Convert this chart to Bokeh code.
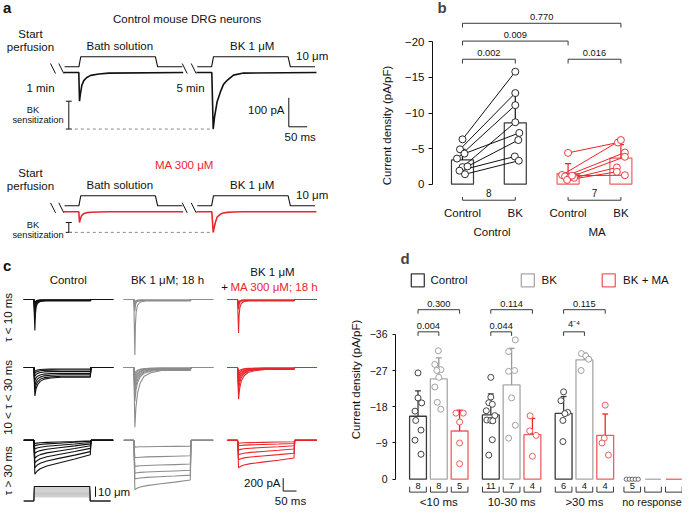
import numpy as np
from bokeh.plotting import figure
from bokeh.layouts import row, column
from bokeh.models import Range1d, FixedTicker, Label, CustomJSTickFormatter
from bokeh.core.properties import value
from bokeh.embed import file_html
from bokeh.resources import INLINE

FONT = "Liberation Sans"
BLACK = "#111111"
DARK = "#3a3a3a"
GREY = "#a8a8a8"
TGREY = "#8c8c8c"
RED = "#e8262b"
RED_L = "#f05e5e"

# ======================= DATA =======================
# panel a: currents (ms, pA) and stimulus (ms, um)
a_bath_t = [0, 40.8, 42.7, 44.8, 48.9, 54.3, 62.5, 73.4, 95.1, 122.3, 324.4]
a_bath_ctrl_pa = [0, 0, -99, -76, -45, -28, -17, -10, -5, -2, 0]
a_bath_ma_pa = [0, 0, -37, -25, -12, -6, -3, -1.5, -0.5, 0, 0]
a_bk_t = [0, 41.6, 45.4, 48.9, 51.6, 56.2, 65.2, 73.4, 83.4, 100.5, 127.7, 326.0]
a_bk_ctrl_pa = [0, 0, -195, -155, -134, -100, -66, -41, -27, -9, -2, 0]
a_bk_ma_pa = [0, 0, -71, -50, -35, -18, -8, -4, -2, -0.5, 0, 0]
a_stim_t = [2, 41, 46, 249, 255, 322]
a_stim_um = [0, 0, 10, 10, 0, 0]

# panel b: current density (pA/pF), paired cells
b_categories = ["Control", "BK", "Control", "BK"]
b_groups = ["Control", "MA"]
b_ctrl_control = [-6.3, -4.9, -3.6, -4.3, -2.4, -2.5, -1.9, -1.4]
b_ctrl_bk = [-15.8, -12.8, -11.1, -7.2, -8.7, -6.2, -3.9, -3.3]
b_ma_control = [-4.4, -1.3, -1.1, -1.0, -0.9, -0.6, -1.2]
b_ma_bk = [-5.85, -6.2, -4.45, -3.85, -2.35, -1.74, -1.26]
b_sd = [1.5, 4.1, 1.4, 1.9]
b_ticks = [0, -5, -10, -15, -20]
b_pvalues = ["0.002", "0.009", "0.770", "0.016"]
b_n = ["8", "7"]

# panel c: families of mechanically activated currents (pA)
c_row1_decay_ms = [0, 2, 5, 10, 20, 40]
c_row1_decay_frac = [1, 0.45, 0.2, 0.08, 0.02, 0]
c_row2_decay_ms = [0, 4, 10, 20, 35, 60, 100]
c_row2_decay_frac = [1, 0.65, 0.4, 0.22, 0.1, 0.04, 0]
c_row3_decay_ms = [0, 8, 20, 45, 90, 150, 209]
c_row3_decay_frac = [1, 0.85, 0.72, 0.58, 0.42, 0.22, 0]
c_r1_ctrl_peak = [480, 300, 210, 150, 105, 75]
c_r1_ctrl_end = [22, 15, 15, 8, 8, 8]
c_r1_bk_peak = [862, 180, 120, 75, 45]
c_r1_bk_end = [22, 15, 15, 8, 8]
c_r1_ma_peak = [518, 150, 90, 60]
c_r1_ma_end = [22, 15, 8, 8]
c_r2_ctrl_peak = [440, 350, 275, 200, 135, 90, 60]
c_r2_ctrl_end = [150, 135, 112, 90, 60, 38, 22]
c_r2_bk_peak = [924, 525, 420, 330, 255, 195, 135, 90]
c_r2_bk_end = [45, 38, 30, 22, 15, 15, 8, 8]
c_r2_ma_peak = [489, 360, 270, 210, 150, 105, 60]
c_r2_ma_end = [30, 22, 22, 15, 15, 8, 8]
c_r3_ctrl_peak = [525, 425, 350, 275, 200, 135, 85, 50]
c_r3_ctrl_end = [225, 175, 125, 85, 55, 35, 15, 8]
c_r3_bk_peak = [765, 600, 510, 405, 270, 105]
c_r3_bk_end = [615, 540, 465, 368, 240, 90]
c_r3_ma_peak = [425, 300, 225, 150, 85, 45]
c_r3_ma_end = [275, 200, 135, 85, 50, 22]
c_stim_um = [4.0, 5.1, 6.2, 7.3, 8.4, 9.5, 10.6, 11.7, 12.8, 14.0]

# panel d: current density (pA/pF) by inactivation time constant
d_groups = ["<10 ms", "10-30 ms", ">30 ms", "no response"]
d_series = ["Control", "BK", "BK + MA"]
d_lt10_control = [-26.4, -20.2, -18.95, -16.9, -14.6, -12.2, -9.7, -6.2]
d_lt10_bk = [-31.9, -28.5, -27.2, -27.0, -25.3, -22.9, -19.1, -17.4]
d_lt10_ma = [-16.4, -16.4, -14.2, -9.0, -3.85]
d_mid_control = [-25.3, -20.4, -19.0, -18.6, -17.0, -15.8, -14.7, -14.6, -14.5, -9.8, -6.0]
d_mid_bk = [-34.6, -31.7, -27.0, -26.8, -20.2, -13.4, -10.2]
d_mid_ma = [-15.75, -12.0, -10.9, -5.7]
d_gt30_control = [-21.7, -19.5, -16.6, -16.3, -14.6, -9.35]
d_gt30_bk = [-31.2, -30.6, -29.8, -27.0]
d_gt30_ma = [-18.4, -10.2, -9.0, -6.0]
d_none_control = [0, 0, 0, 0, 0]
d_sd = [6.3, 5.2, 5.2, 5.2, 9.1, 4.0, 4.2, 1.65, 5.3]
d_ticks = [0, -9, -18, -27, -36]
d_pvalues = ["0.004", "0.300", "0.044", "0.114", "4\u207b\u2074", "0.115"]

# jitter of the dots (pixels)
b_jit_cc = [0, -2.5, -5.5, 2, 0, 5, -3, 2.5]
b_jit_cb = [0, 0, 0, 4, 0, 3, -0.5, 3.5]
b_jit_mc = [0, -6, -3, 2, 6, -1, 4]
b_jit_mb = [-3, 0, 4, 4, -4, -4, 4]
d_jit = [
    [0, 0, 3.7, -3, -2.3, 3, -3, 3],
    [-0.5, -4, 2, -2, 0, -4, -1.5, 2],
    [-3.7, 3.7, 0, 0, 0],
    [0, 0, -2, 1.5, -4.5, 4, -4, 0, 2, 1.5, -2],
    [3.7, -3, 3, -3, 0, 3.7, -3],
    [-2.3, -2.7, 3.7, 0],
    [0, -2.7, 4, 1.3, -0.7, -0.7],
    [-3, 1.3, 4.3, -3.3],
    [0, -1, -3.2, 3.2],
]

# ======================= HELPERS =======================
def canvas(w, h, xr, yr):
    p = figure(width=w, height=h, x_range=Range1d(xr[0], xr[1]), y_range=Range1d(yr[1], yr[0]),
               output_backend="svg", toolbar_location=None, x_axis_location=None,
               y_axis_location=None, min_border=0, outline_line_color=None)
    p.grid.visible = False
    return p


def txt(p, x, y, s, size="11.5px", color=BLACK, align="center", baseline="middle", angle=0.0, bold=False):
    p.text(x=[x], y=[y], text=[s], text_font=value(FONT), text_font_size=size, text_color=color,
           text_align=align, text_baseline=baseline, angle=angle,
           text_font_style="bold" if bold else "normal")


def jit(xc, js, unit):
    return [xc + j / unit for j in js]


def style_yaxis(ax, ticks, tick_fs, label_std, label_fs, tick_std, tick_out):
    ax.ticker = FixedTicker(ticks=ticks)
    ax.bounds = (min(ticks), max(ticks))
    ax.formatter = CustomJSTickFormatter(code="return tick == 0 ? '0' : '\u2212' + Math.abs(tick);")
    ax.axis_label = "Current density (pA/pF)"
    ax.axis_label_text_font = FONT
    ax.axis_label_text_font_style = "normal"
    ax.axis_label_text_font_size = label_fs
    ax.axis_label_standoff = label_std
    ax.axis_label_text_color = BLACK
    ax.major_label_text_font = FONT
    ax.major_label_text_font_size = tick_fs
    ax.major_label_standoff = tick_std
    ax.major_tick_out = tick_out
    ax.major_tick_in = 0
    ax.minor_tick_line_color = None
    ax.axis_line_color = BLACK
    ax.major_tick_line_color = BLACK
    ax.major_label_text_color = BLACK


# ======================= PANEL A =======================
pa = canvas(340, 250, (0, 340), (2, 252))
A_PX_MS = 18.4 / 50.0
A_PX_PA = 29.0 / 100.0
A_PX_UM = 1.0


def a_xy(t, v, x0, y0, k):
    return [x0 + tt * A_PX_MS for tt in t], [y0 - vv * k for vv in v]


txt(pa, 2.5, 8.5, "a", size="15px", align="left", bold=True)
txt(pa, 186.7, 20, "Control mouse DRG neurons")
txt(pa, 184, 166, "MA 300 \u03bcM", color=RED)

rows_a = [
    dict(tr=74.0, st=68.3, bath=a_bath_ctrl_pa, bk=a_bk_ctrl_pa, col=BLACK, lab=35.0),
    dict(tr=213.3, st=207.3, bath=a_bath_ma_pa, bk=a_bk_ma_pa, col=RED, lab=174.0),
]
for r in rows_a:
    txt(pa, 30, r["lab"], "Start")
    txt(pa, 30, r["lab"] + 13.5, "perfusion")
    txt(pa, 119.3, r["lab"] + 12, "Bath solution")
    txt(pa, 251.7, r["lab"] + 12, "BK 1 \u03bcM")
    txt(pa, 311.7, r["st"] - 11, "10 \u03bcm")
    for x0 in (63.3, 196.0):
        sx, sy = a_xy(a_stim_t, a_stim_um, x0, r["st"], A_PX_UM)
        pa.line(sx, sy, line_color=BLACK, line_width=1.1)
    bx, by = a_xy(a_bath_t, r["bath"], 63.3, r["tr"], A_PX_PA)
    kx, ky = a_xy(a_bk_t, r["bk"], 196.0, r["tr"], A_PX_PA)
    pa.line(bx, by, line_color=r["col"], line_width=1.6)
    pa.line(kx, ky, line_color=r["col"], line_width=1.6)
    # break marks
    yb = r["tr"] - 9
    pa.multi_line(xs=[[50, 55], [58.3, 63.3], [181.7, 186.7], [190.7, 195.7]],
                  ys=[[yb, yb + 10]] * 4, line_color=BLACK, line_width=1)
    # BK sensitization bracket and dashed reference line
    top = max(by)
    bot = max(ky)
    pa.multi_line(xs=[[68.3, 68.3], [65.3, 71.3], [65.3, 71.3]], ys=[[top, bot], [top, top], [bot, bot]],
                  line_color=BLACK, line_width=1)
    pa.line([68.3, kx[ky.index(bot)]], [bot, bot], line_color="#8a8a8a", line_width=1, line_dash="3 3")
    if r["col"] == BLACK:
        yk, ys_ = (top + bot) / 2 - 5, (top + bot) / 2 + 5
    else:
        yk, ys_ = bot - 7.5, bot + 2.5
    txt(pa, 32.5, yk, "BK", size="9.3px")
    txt(pa, 37.5, ys_, "sensitization", size="9.3px")

txt(pa, 40, 89.3, "1 min")
txt(pa, 190, 89.3, "5 min")
# scale bar
pa.line([288.3, 288.3, 288.3 + 50 * A_PX_MS], [128.3 - 100 * A_PX_PA, 128.3, 128.3], line_color=BLACK, line_width=1)
txt(pa, 284, 111, "100 pA", align="right")
txt(pa, 299.7, 138.3, "50 ms")

# ======================= PANEL C =======================
pc = canvas(340, 258, (0, 340), (256, 522))
C_PX_MS = 13.3 / 50.0
C_PX_PA = 13.3 / 200.0
C_PX_UM = 1.07
C_ONSET, C_LAG, C_END, C_TRACE_END = 37.6, 4.0, 250.0, 336.0


def c_trace(peak, end, prof_t, prof_f):
    t = [0.0, C_ONSET]
    v = [0.0, 0.0]
    for dt, f in zip(prof_t, prof_f):
        tt = C_ONSET + C_LAG + dt
        if tt >= C_END:
            break
        t.append(tt)
        v.append(-(end + (peak - end) * f))
    t += [C_END, C_END + 3, C_TRACE_END]
    v += [-end, 0.0, 0.0]
    return t, v


col_x0 = [23.3, 123.3, 227.0]
row_y0 = [306.5, 376.7, 451.7]
col_colors = [BLACK, TGREY, RED]
families = [
    [(c_r1_ctrl_peak, c_r1_ctrl_end), (c_r1_bk_peak, c_r1_bk_end), (c_r1_ma_peak, c_r1_ma_end)],
    [(c_r2_ctrl_peak, c_r2_ctrl_end), (c_r2_bk_peak, c_r2_bk_end), (c_r2_ma_peak, c_r2_ma_end)],
    [(c_r3_ctrl_peak, c_r3_ctrl_end), (c_r3_bk_peak, c_r3_bk_end), (c_r3_ma_peak, c_r3_ma_end)],
]
profiles = [(c_row1_decay_ms, c_row1_decay_frac), (c_row2_decay_ms, c_row2_decay_frac),
            (c_row3_decay_ms, c_row3_decay_frac)]
for ri, fam_row in enumerate(families):
    for ci, (peaks, ends) in enumerate(fam_row):
        xs, ys = [], []
        for pk, en in zip(peaks, ends):
            t, v = c_trace(pk, en, *profiles[ri])
            xs.append([col_x0[ci] + tt * C_PX_MS for tt in t])
            ys.append([row_y0[ri] - vv * C_PX_PA for vv in v])
        pc.multi_line(xs=xs, ys=ys, line_color=col_colors[ci], line_width=1.1)

# stimulus family
c_stim_t = [0, 37.6, 39.5, 248, 250, 326]
sxs, sys_ = [], []
for um in c_stim_um:
    sxs.append([23.3 + tt * C_PX_MS for tt in c_stim_t])
    sys_.append([514.3 - u * C_PX_UM for u in [0, 0, um, um, 0, 0]])
pc.multi_line(xs=sxs[:-1], ys=sys_[:-1], line_color="#9a9a9a", line_width=0.6)
pc.line(sxs[-1], sys_[-1], line_color=BLACK, line_width=1.1)
pc.line([95, 95], [499.3, 499.3 + 10 * C_PX_UM], line_color=BLACK, line_width=1)
txt(pc, 97.5, 505, "10 \u03bcm", align="left")
# scale bar
pc.line([282.7, 282.7, 282.7 + 50 * C_PX_MS], [504 - 200 * C_PX_PA, 504, 504], line_color=BLACK, line_width=1)
txt(pc, 280, 496, "200 pA", align="right")
txt(pc, 290, 514, "50 ms")

txt(pc, 2.5, 271, "c", size="15px", align="left", bold=True)
txt(pc, 67.7, 286, "Control")
txt(pc, 167, 286, "BK 1 \u03bcM; 18 h")
txt(pc, 272, 278.3, "BK 1 \u03bcM")
txt(pc, 224, 293.3, "+")
txt(pc, 230, 293.3, "MA 300 \u03bcM; 18 h", color=RED, align="left")
txt(pc, 7.5, 325, "\u03c4 < 10 ms", angle=np.pi / 2)
txt(pc, 7.5, 407.5, "10 < \u03c4 < 30 ms", angle=np.pi / 2)
txt(pc, 7.5, 483, "\u03c4 > 30 ms", angle=np.pi / 2)

# ======================= PANEL B =======================
B_UNIT = 52.8
pb = figure(width=342, height=250, x_range=Range1d(-0.568, 4.167), y_range=Range1d(9.31, -25.8),
            output_backend="svg", toolbar_location=None, x_axis_location=None,
            min_border_left=92, min_border_right=0, min_border_top=0, min_border_bottom=0,
            outline_line_color=None)
pb.grid.visible = False
style_yaxis(pb.yaxis[0], b_ticks, "11.5px", 9, "11.5px", 4, 4)

b_x = [0, 1, 2, 3]
b_values = [b_ctrl_control, b_ctrl_bk, b_ma_control, b_ma_bk]
b_means = [float(np.mean(v)) for v in b_values]
b_cols = [DARK, DARK, RED_L, RED_L]
pb.vbar(x=b_x, top=b_means, bottom=0, width=0.417, fill_color="white", line_color=b_cols, line_width=1.2)
pb.segment(x0=jit(0, b_jit_cc, B_UNIT), y0=b_ctrl_control, x1=jit(1, b_jit_cb, B_UNIT), y1=b_ctrl_bk,
           line_color=BLACK, line_width=1)
pb.segment(x0=jit(2, b_jit_mc, B_UNIT), y0=b_ma_control, x1=jit(3, b_jit_mb, B_UNIT), y1=b_ma_bk,
           line_color=RED, line_width=1)
b_err = [m - s for m, s in zip(b_means, b_sd)]
b_err_cols = [BLACK, BLACK, RED, RED]
pb.segment(x0=b_x, y0=b_means, x1=b_x, y1=b_err, line_color=b_err_cols, line_width=1.2)
pb.segment(x0=[x - 0.06 for x in b_x], y0=b_err, x1=[x + 0.06 for x in b_x], y1=b_err,
           line_color=b_err_cols, line_width=1.2)
for xc, js, vals, col in ((0, b_jit_cc, b_ctrl_control, BLACK), (1, b_jit_cb, b_ctrl_bk, BLACK),
                          (2, b_jit_mc, b_ma_control, RED), (3, b_jit_mb, b_ma_bk, RED)):
    pb.scatter(x=jit(xc, js, B_UNIT), y=vals, size=7, fill_color="white", line_color=col, line_width=0.9)

b_brackets = [(0, 1, -17.55), (0, 2, -20.1), (0, 3, -22.6), (2, 3, -17.55)]
for (x0, x1, yb), lab in zip(b_brackets, b_pvalues):
    pb.line([x0, x0, x1, x1], [yb + 0.6, yb, yb, yb + 0.6], line_color=DARK, line_width=1)
    txt(pb, (x0 + x1) / 2, yb - 0.45, lab, size="9.3px", baseline="bottom")
for (x0, x1), lab in zip([(0, 1), (2, 3)], b_n):
    pb.line([x0, x0, x1, x1], [1.8, 2.25, 2.25, 1.8], line_color=DARK, line_width=1)
    txt(pb, (x0 + x1) / 2, 1.3, lab, size="10px")
for x, lab in zip(b_x, b_categories):
    txt(pb, x, 4.1, lab)
for x, lab in zip([0.56, 2.55], b_groups):
    txt(pb, x, 6.65, lab)
pb.add_layout(Label(x=5, y=243.5, x_units="screen", y_units="screen", text="b", text_font=FONT,
                    text_font_size="15px", text_font_style="bold", text_baseline="middle"))

# ======================= PANEL D =======================
D_UNIT = 20.8
pdd = figure(width=342, height=258, x_range=Range1d(-1.082, 12.716), y_range=Range1d(7.27, -56.8),
             output_backend="svg", toolbar_location=None, x_axis_location=None,
             min_border_left=55, min_border_right=0, min_border_top=0, min_border_bottom=0,
             outline_line_color=None)
pdd.grid.visible = False
style_yaxis(pdd.yaxis[0], d_ticks, "10.5px", 5, "11.5px", 5, 3)

d_values = [d_lt10_control, d_lt10_bk, d_lt10_ma, d_mid_control, d_mid_bk, d_mid_ma,
            d_gt30_control, d_gt30_bk, d_gt30_ma]
d_group_x = [0.0, 3.5, 7.0, 10.3]
d_x = [g + k for g in d_group_x[:3] for k in range(3)]
d_means = [float(np.mean(v)) for v in d_values]
d_bar_cols = [DARK, GREY, RED_L] * 3
d_err_cols = [DARK, "#999999", RED] * 3
d_dot_cols = ["#444444", "#a0a0a0", RED_L] * 3
pdd.vbar(x=d_x, top=d_means, bottom=0, width=0.81, fill_color="white", line_color=d_bar_cols, line_width=1.3)
d_err = [m - s for m, s in zip(d_means, d_sd)]
pdd.segment(x0=d_x, y0=d_means, x1=d_x, y1=d_err, line_color=d_err_cols, line_width=1.3)
pdd.segment(x0=[x - 0.14 for x in d_x], y0=d_err, x1=[x + 0.14 for x in d_x], y1=d_err,
            line_color=d_err_cols, line_width=1.3)
for x, vals, js, col in zip(d_x, d_values, d_jit, d_dot_cols):
    pdd.scatter(x=jit(x, js, D_UNIT), y=vals, size=6, fill_color="white", line_color=col, line_width=1)
# no response
nr = d_group_x[3]
pdd.scatter(x=jit(nr, [-6, -3, 0, 3, 6], D_UNIT), y=d_none_control, size=4.2, fill_color="white",
            line_color="#444444", line_width=0.8)
pdd.segment(x0=[nr + 0.62, nr + 1.62], y0=[0, 0], x1=[nr + 1.38, nr + 2.38], y1=[0, 0],
            line_color=[GREY, RED_L], line_width=1.3)

# n brackets
all_x = d_x + [nr, nr + 1, nr + 2]
all_n = [str(len(v)) for v in d_values] + [str(len(d_none_control)), "", ""]
for x, n in zip(all_x, all_n):
    pdd.line([x - 0.4, x - 0.4, x + 0.4, x + 0.4], [1.85, 3.2, 3.2, 1.85], line_color=DARK, line_width=1)
    if n:
        txt(pdd, x, 1.75, n, size="9.3px")
for gx, lab in zip(d_group_x, d_groups):
    if lab == "no response":
        txt(pdd, gx + 0.95, 5.6, lab, size="10.8px")
    else:
        txt(pdd, gx + 1, 5.6, lab)

# significance brackets
d_brackets = [(0, 1, -36.6), (0, 2, -42.1), (3.5, 4.5, -36.6), (3.5, 5.5, -42.1), (7, 8, -36.6), (7, 9, -42.1)]
for (x0, x1, yb), lab in zip(d_brackets, d_pvalues):
    pdd.line([x0, x0, x1, x1], [yb + 1.0, yb, yb, yb + 1.0], line_color=DARK, line_width=1)
    txt(pdd, (x0 + x1) / 2, yb - 0.6, lab, size="9.3px", baseline="bottom")

# legend
leg_sq_x = [-0.01, 5.28, 9.17]
leg_lab_x = [0.60, 5.94, 9.86]
pdd.scatter(x=leg_sq_x, y=[-49.4] * 3, marker="square", size=13, fill_color="white",
            line_color=[DARK, GREY, RED_L], line_width=1.3)
for x, lab in zip(leg_lab_x, d_series):
    txt(pdd, x, -49.4, lab, align="left")
pdd.add_layout(Label(x=5, y=250, x_units="screen", y_units="screen", text="d", text_font=FONT,
                     text_font_size="15px", text_font_style="bold", text_baseline="middle"))

layout = column(row(pa, pb), row(pc, pdd))
open("out.html", "w").write(file_html(layout, INLINE))
